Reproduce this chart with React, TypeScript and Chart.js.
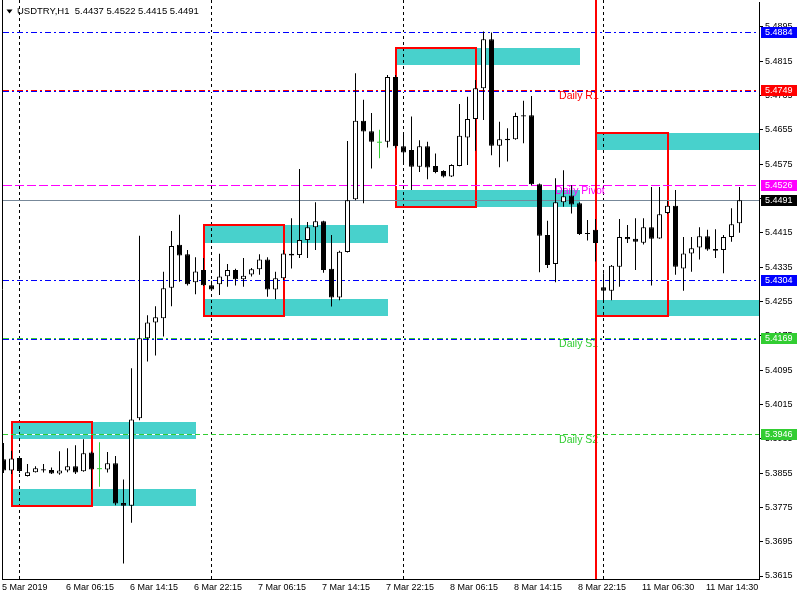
import React, { useEffect, useRef } from "react";
import { Chart, registerables } from "chart.js";

Chart.register(...registerables);

// ---------- data (USDTRY, H1) ----------
const opens = [
  5.3887, 5.3861, 5.3890, 5.3848, 5.3857, 5.3864, 5.3862, 5.3854, 5.3861, 5.3871,
  5.3859, 5.3903, 5.3864, 5.3863, 5.3878, 5.3785, 5.3779, 5.3983, 5.4169, 5.4206,
  5.4216, 5.4287, 5.4387, 5.4365, 5.4300, 5.4328, 5.4293, 5.4295, 5.4314, 5.4328,
  5.4307, 5.4318, 5.4330, 5.4353, 5.4283, 5.4309, 5.4366, 5.4363, 5.4398, 5.4428,
  5.4442, 5.4331, 5.4264, 5.4370, 5.4493, 5.4676, 5.4652, 5.4625, 5.4627, 5.4778,
  5.4617, 5.4608, 5.4569, 5.4617, 5.4571, 5.4559, 5.4546, 5.4571, 5.4637, 5.4680,
  5.4752, 5.4866, 5.4618, 5.4634, 5.4633, 5.4689, 5.4689, 5.4528, 5.4410, 5.4342,
  5.4486, 5.4502, 5.4484, 5.4414, 5.4422, 5.4288, 5.4280, 5.4336, 5.4405, 5.4401,
  5.4392, 5.4428, 5.4402, 5.4461, 5.4478, 5.4332, 5.4367, 5.4381, 5.4407, 5.4377,
  5.4375, 5.4405, 5.4437,
];
const highs = [
  5.3925, 5.3907, 5.3892, 5.3876, 5.3871, 5.3876, 5.3868, 5.3906, 5.3913, 5.3920,
  5.3934, 5.3905, 5.3927, 5.3904, 5.3895, 5.3840, 5.4099, 5.4408, 5.4223, 5.4244,
  5.4324, 5.4419, 5.4457, 5.4375, 5.4358, 5.4356, 5.4303, 5.4366, 5.4342, 5.4331,
  5.4356, 5.4333, 5.4365, 5.4358, 5.4324, 5.4375, 5.4449, 5.4564, 5.4440, 5.4486,
  5.4443, 5.4410, 5.4373, 5.4629, 5.4787, 5.4725, 5.4694, 5.4655, 5.4783, 5.4783,
  5.4643, 5.4686, 5.4631, 5.4627, 5.4600, 5.4561, 5.4575, 5.4715, 5.4732, 5.4771,
  5.4884, 5.4882, 5.4674, 5.4659, 5.4695, 5.4723, 5.4734, 5.4530, 5.4443, 5.4542,
  5.4561, 5.4526, 5.4486, 5.4445, 5.4447, 5.4321, 5.4340, 5.4447, 5.4433, 5.4449,
  5.4449, 5.4522, 5.4522, 5.4490, 5.4515, 5.4405, 5.4405, 5.4428, 5.4422, 5.4423,
  5.4410, 5.4472, 5.4522,
];
const lows = [
  5.3855, 5.3853, 5.3855, 5.3847, 5.3856, 5.3856, 5.3853, 5.3851, 5.3857, 5.3853,
  5.3858, 5.3817, 5.3823, 5.3856, 5.3780, 5.3644, 5.3739, 5.3978, 5.4115, 5.4129,
  5.4173, 5.4244, 5.4301, 5.4292, 5.4272, 5.4291, 5.4282, 5.4270, 5.4289, 5.4292,
  5.4289, 5.4313, 5.4317, 5.4266, 5.4260, 5.4305, 5.4332, 5.4356, 5.4356, 5.4375,
  5.4322, 5.4243, 5.4258, 5.4369, 5.4491, 5.4484, 5.4565, 5.4589, 5.4614, 5.4612,
  5.4580, 5.4515, 5.4557, 5.4540, 5.4554, 5.4544, 5.4545, 5.4570, 5.4573, 5.4606,
  5.4678, 5.4596, 5.4568, 5.4581, 5.4632, 5.4624, 5.4526, 5.4323, 5.4333, 5.4300,
  5.4476, 5.4460, 5.4410, 5.4397, 5.4348, 5.4258, 5.4258, 5.4289, 5.4391, 5.4328,
  5.4388, 5.4292, 5.4401, 5.4459, 5.4317, 5.4280, 5.4324, 5.4353, 5.4373, 5.4356,
  5.4321, 5.4394, 5.4415,
];
const closes = [
  5.3861, 5.3889, 5.3860, 5.3857, 5.3866, 5.3861, 5.3854, 5.3861, 5.3871, 5.3856,
  5.3901, 5.3863, 5.3864, 5.3878, 5.3784, 5.3779, 5.3980, 5.4169, 5.4206, 5.4218,
  5.4286, 5.4384, 5.4362, 5.4295, 5.4325, 5.4293, 5.4283, 5.4313, 5.4328, 5.4307,
  5.4315, 5.4330, 5.4353, 5.4283, 5.4309, 5.4367, 5.4362, 5.4398, 5.4428, 5.4442,
  5.4328, 5.4264, 5.4371, 5.4491, 5.4676, 5.4651, 5.4627, 5.4625, 5.4778, 5.4617,
  5.4602, 5.4569, 5.4617, 5.4567, 5.4557, 5.4546, 5.4573, 5.4641, 5.4680, 5.4752,
  5.4866, 5.4618, 5.4633, 5.4631, 5.4687, 5.4686, 5.4528, 5.4408, 5.4340, 5.4486,
  5.4500, 5.4481, 5.4412, 5.4412, 5.4391, 5.4280, 5.4338, 5.4405, 5.4400, 5.4394,
  5.4428, 5.4401, 5.4458, 5.4478, 5.4336, 5.4367, 5.4379, 5.4407, 5.4376, 5.4373,
  5.4405, 5.4435, 5.4491,
];

const xTickBars = [0, 8, 16, 24, 32, 40, 48, 56, 64, 72, 80, 88];
const xTickLabels = [
  "5 Mar 2019", "6 Mar 06:15", "6 Mar 14:15", "6 Mar 22:15", "7 Mar 06:15", "7 Mar 14:15",
  "7 Mar 22:15", "8 Mar 06:15", "8 Mar 14:15", "8 Mar 22:15", "11 Mar 06:30", "11 Mar 14:30",
];
const yTickValues = [
  5.3615, 5.3695, 5.3775, 5.3855, 5.3935, 5.4015, 5.4095, 5.4175, 5.4255,
  5.4335, 5.4415, 5.4495, 5.4575, 5.4655, 5.4735, 5.4815, 5.4895,
];

// supply / demand zones (bar index range and price bands)
const zoneStart = [1, 25, 49, 74];
const zoneEnd = [24, 48, 72, 97];
const boxEnd = [11, 35, 59, 83];
const upperTop = [5.3974, 5.4433, 5.4846, 5.4647];
const upperBottom = [5.3934, 5.4392, 5.4806, 5.4608];
const lowerTop = [5.3818, 5.4261, 5.4515, 5.4258];
const lowerBottom = [5.3778, 5.4221, 5.4476, 5.4220];

// horizontal levels
const levelValues = [5.4884, 5.4746, 5.4749, 5.4526, 5.4491, 5.4304, 5.4167, 5.4169, 5.3946];
const levelColors = ["#0000FF", "#0000FF", "#FF0000", "#FF00FF", "#778899", "#0000FF", "#0000FF", "#32CD32", "#32CD32"];
const levelStyles = ["dashdot", "dashdot", "dashdot", "dash", "solid", "dashdot", "dashdot", "dashdot", "dash2"];

// price tags on the axis
const tagValues = [5.4884, 5.4749, 5.4526, 5.4491, 5.4304, 5.4169, 5.3946];
const tagColors = ["#0000FF", "#FF0000", "#FF00FF", "#000000", "#0000FF", "#32CD32", "#32CD32"];

// level captions
const captionTexts = ["Daily R1", "Daily Pivot", "Daily S1", "Daily S2"];
const captionValues = [5.4749, 5.4526, 5.4169, 5.3946];
const captionBars = [69.45, 68.95, 69.45, 69.45];
const captionColors = ["#FF0000", "#FF00FF", "#32CD32", "#32CD32"];

const separatorBar = 74;
const gridBars = [2, 26, 50, 75];
const titleText = "USDTRY,H1  5.4437 5.4522 5.4415 5.4491";

// ---------- layout constants ----------
const X_MIN = -0.1875;
const X_MAX = 94.4375;
const Y_MIN = 5.360801;
const Y_MAX = 5.4953;
const CYAN = "#48D1CC";
const RED = "#FF0000";
const DOJI = "#32CD32";
const FONT = "'Liberation Sans', Arial, sans-serif";

const dashes: Record<string, number[]> = {
  dashdot: [6, 3, 2, 3],
  dash: [9, 3],
  dash2: [5, 3],
  solid: [],
};

const overlayPlugin = {
  id: "mt4overlay",
  beforeDatasetsDraw(chart: any) {
    const { ctx, chartArea: a, scales } = chart;
    const xs = scales.x;
    const ys = scales.y;
    ctx.save();
    ctx.beginPath();
    ctx.rect(a.left, a.top - 2, a.right - a.left, a.bottom - a.top + 2);
    ctx.clip();

    // zones
    ctx.fillStyle = CYAN;
    for (let i = 0; i < zoneStart.length; i++) {
      const x0 = Math.round(xs.getPixelForValue(zoneStart[i]));
      const x1 = Math.round(xs.getPixelForValue(zoneEnd[i]));
      const bands = [
        [upperTop[i], upperBottom[i]],
        [lowerTop[i], lowerBottom[i]],
      ];
      for (const [t, b] of bands) {
        const y0 = Math.round(ys.getPixelForValue(t));
        const y1 = Math.round(ys.getPixelForValue(b));
        ctx.fillRect(x0, y0, x1 - x0, y1 - y0);
      }
    }

    // left frame
    ctx.setLineDash([]);
    ctx.strokeStyle = "#000";
    ctx.lineWidth = 1;
    ctx.beginPath();
    ctx.moveTo(a.left + 0.5, a.top - 2);
    ctx.lineTo(a.left + 0.5, a.bottom);
    ctx.stroke();

    // vertical grid
    ctx.setLineDash([3, 3]);
    for (const g of gridBars) {
      const px = Math.floor(xs.getPixelForValue(g)) + 0.5;
      ctx.beginPath();
      ctx.moveTo(px, a.top - 2);
      ctx.lineTo(px, a.bottom);
      ctx.stroke();
    }

    // red boxes
    ctx.setLineDash([]);
    ctx.strokeStyle = RED;
    ctx.lineWidth = 2;
    for (let i = 0; i < zoneStart.length; i++) {
      const x0 = Math.round(xs.getPixelForValue(zoneStart[i]) + 0.5);
      const x1 = Math.round(xs.getPixelForValue(boxEnd[i]) + 0.5);
      const y0 = Math.round(ys.getPixelForValue(upperTop[i]));
      const y1 = Math.round(ys.getPixelForValue(lowerBottom[i]));
      ctx.strokeRect(x0, y0, x1 - x0, y1 - y0);
    }

    // horizontal levels
    ctx.lineWidth = 1;
    for (let i = 0; i < levelValues.length; i++) {
      const py = Math.round(ys.getPixelForValue(levelValues[i])) + 0.5;
      const d = dashes[levelStyles[i]];
      if (d.length) {
        ctx.setLineDash([]);
        ctx.strokeStyle = "#FFFFFF";
        ctx.beginPath();
        ctx.moveTo(a.left + 1, py);
        ctx.lineTo(a.right, py);
        ctx.stroke();
      }
      ctx.setLineDash(d);
      ctx.strokeStyle = levelColors[i];
      ctx.beginPath();
      ctx.moveTo(a.left + 1, py);
      ctx.lineTo(a.right, py);
      ctx.stroke();
    }

    // captions
    ctx.setLineDash([]);
    ctx.font = `10.5px ${FONT}`;
    ctx.textBaseline = "top";
    ctx.textAlign = "left";
    for (let i = 0; i < captionTexts.length; i++) {
      ctx.fillStyle = captionColors[i];
      ctx.fillText(
        captionTexts[i],
        xs.getPixelForValue(captionBars[i]),
        Math.round(ys.getPixelForValue(captionValues[i])) + 1
      );
    }

    // period separator
    ctx.strokeStyle = RED;
    ctx.lineWidth = 2;
    const sx = Math.round(xs.getPixelForValue(separatorBar) + 0.5);
    ctx.beginPath();
    ctx.moveTo(sx, a.top - 2);
    ctx.lineTo(sx, a.bottom);
    ctx.stroke();

    ctx.restore();
  },
  afterDraw(chart: any) {
    const { ctx, chartArea: a, scales } = chart;
    const ys = scales.y;
    ctx.save();
    // title
    ctx.fillStyle = "#000";
    ctx.beginPath();
    ctx.moveTo(6.5, 9.5);
    ctx.lineTo(12.5, 9.5);
    ctx.lineTo(9.5, 13.5);
    ctx.closePath();
    ctx.fill();
    ctx.font = `9.5px ${FONT}`;
    ctx.textBaseline = "middle";
    ctx.textAlign = "left";
    ctx.fillText(titleText, 17, 11);

    // price tags
    ctx.font = `9px ${FONT}`;
    for (let i = 0; i < tagValues.length; i++) {
      const py = Math.round(ys.getPixelForValue(tagValues[i]));
      ctx.fillStyle = tagColors[i];
      ctx.fillRect(a.right + 2, py - 5, 36, 11);
      ctx.fillStyle = "#FFFFFF";
      ctx.fillText(tagValues[i].toFixed(4), a.right + 6, py + 0.5);
    }
    ctx.restore();
  },
};

export default function App() {
  const canvasRef = useRef<HTMLCanvasElement | null>(null);

  useEffect(() => {
    const canvas = canvasRef.current;
    if (!canvas) return;
    Chart.defaults.font.family = FONT;
    Chart.defaults.font.size = 9;
    Chart.defaults.color = "#000";

    const bodyData = opens.map((o, i) => ({ x: i, y: [o, closes[i]] }));
    const wickData = lows.map((l, i) => ({ x: i, y: [l, highs[i]] }));
    const bodyBg = opens.map((o, i) => (closes[i] > o ? "#FFFFFF" : closes[i] < o ? "#000000" : DOJI));
    const bodyBw = opens.map((o, i) => (closes[i] === o ? 0 : 1));
    const wickBg = opens.map((o, i) => (closes[i] === o ? DOJI : "#000000"));

    const chart = new Chart(canvas, {
      type: "bar",
      data: {
        datasets: [
          {
            label: "body",
            data: bodyData as any,
            grouped: false,
            barThickness: 5,
            maxBarThickness: 5,
            minBarLength: 1,
            backgroundColor: bodyBg,
            borderColor: "#000000",
            borderWidth: bodyBw,
            borderSkipped: false,
            inflateAmount: 0,
            order: 0,
          } as any,
          {
            label: "wick",
            data: wickData as any,
            grouped: false,
            barThickness: 1,
            maxBarThickness: 1,
            minBarLength: 1,
            backgroundColor: wickBg,
            borderWidth: 0,
            inflateAmount: 0,
            order: 1,
          } as any,
        ],
      },
      options: {
        animation: false,
        responsive: false,
        devicePixelRatio: 1,
        layout: { padding: { left: 2, top: 2, right: 0, bottom: 0 } },
        plugins: {
          legend: { display: false },
          tooltip: { enabled: false },
        },
        scales: {
          x: {
            type: "linear",
            min: X_MIN,
            max: X_MAX,
            offset: false,
            grid: { display: false, drawTicks: false },
            border: { display: true, color: "#000", width: 1 },
            ticks: {
              autoSkip: false,
              maxRotation: 0,
              minRotation: 0,
              align: "start",
              padding: 3,
              labelOffset: -1.5,
              color: "#000",
              font: { size: 9, family: FONT },
              callback: (_v: any, i: number) => xTickLabels[i] ?? "",
            },
            afterBuildTicks: (s: any) => {
              s.ticks = xTickBars.map((v) => ({ value: v }));
            },
            afterFit: (s: any) => {
              s.height = 21;
              s.paddingLeft = 0;
              s.paddingRight = 0;
            },
          },
          y: {
            type: "linear",
            position: "right",
            min: Y_MIN,
            max: Y_MAX,
            grid: { display: true, drawOnChartArea: false, drawTicks: true, tickLength: 4, color: "#000" },
            border: { display: true, color: "#000", width: 1 },
            ticks: {
              autoSkip: false,
              padding: 2,
              color: "#000",
              font: { size: 9, family: FONT },
              callback: (v: any) => Number(v).toFixed(4),
            },
            afterBuildTicks: (s: any) => {
              s.ticks = yTickValues.map((v) => ({ value: v }));
            },
            afterFit: (s: any) => {
              s.width = 41;
              s.paddingTop = 0;
              s.paddingBottom = 0;
            },
          },
        },
      } as any,
      plugins: [overlayPlugin],
    });

    return () => chart.destroy();
  }, []);

  return (
    <div style={{ position: "absolute", left: 0, top: 0, width: 800, height: 600, background: "#FFFFFF" }}>
      <canvas ref={canvasRef} width={800} height={600} style={{ display: "block" }} />
    </div>
  );
}
